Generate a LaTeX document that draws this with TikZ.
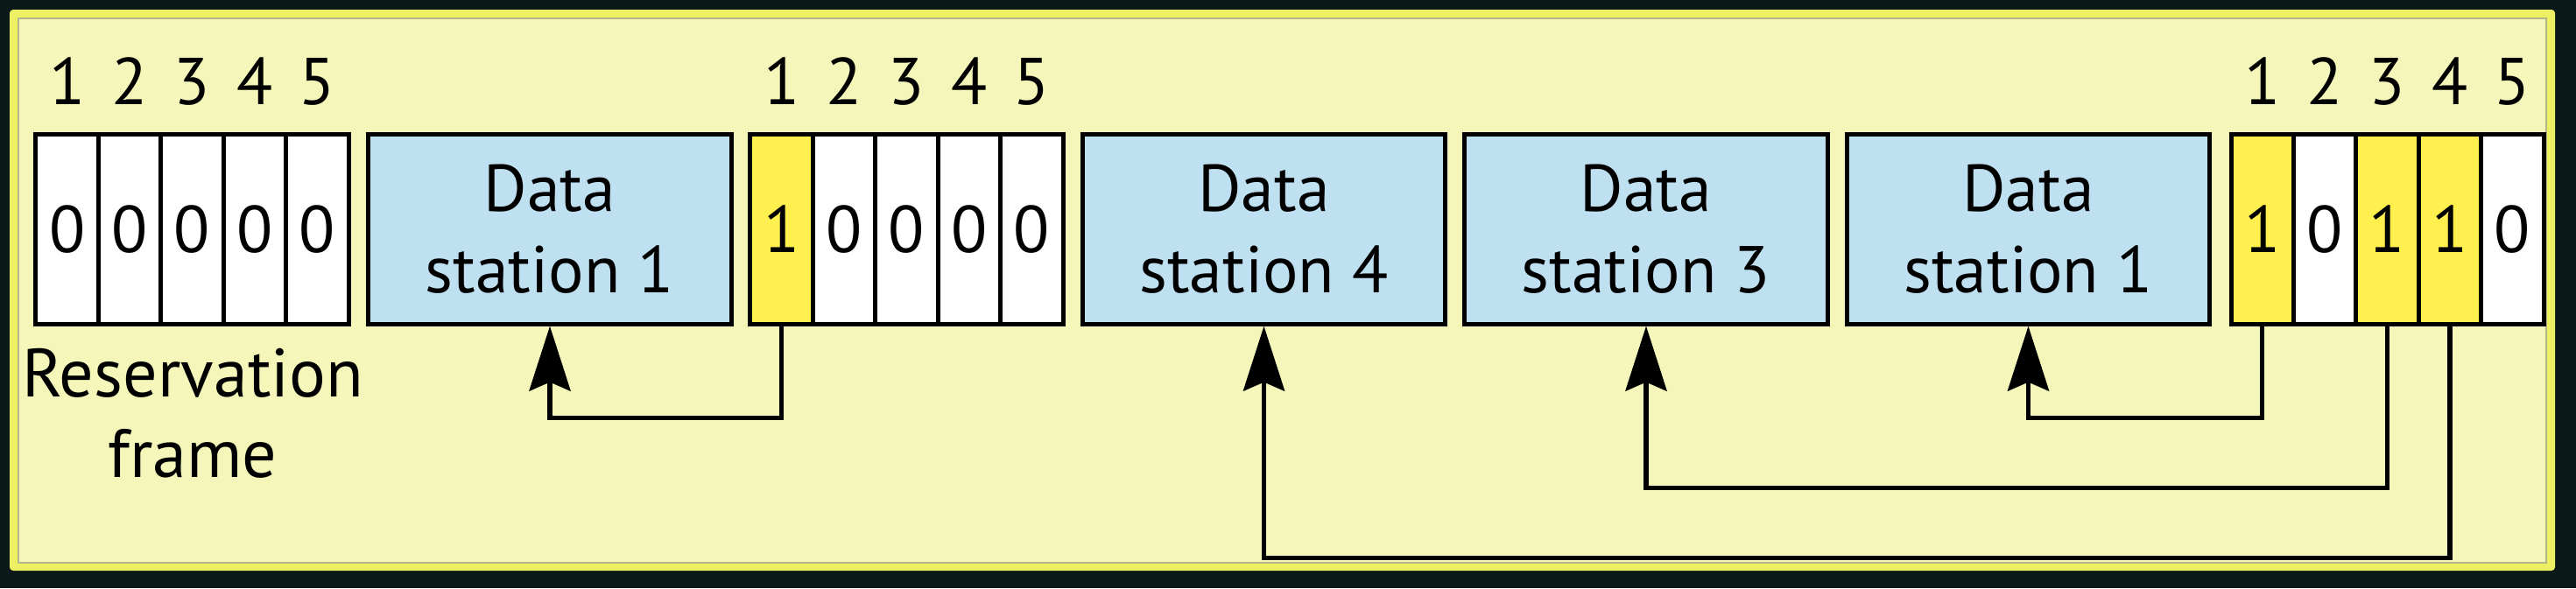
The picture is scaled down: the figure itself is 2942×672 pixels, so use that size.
\documentclass[tikz,border=0pt]{standalone}
\usepackage{fontspec}
\setmainfont{PT Sans}
\usetikzlibrary{arrows.meta}
\definecolor{bgdark}{RGB}{10,24,24}
\definecolor{panelfill}{RGB}{245,247,186}
\definecolor{panelrim}{RGB}{238,240,100}
\definecolor{panelline}{RGB}{180,182,135}
\definecolor{stationblue}{RGB}{190,224,240}
\definecolor{setbit}{RGB}{255,240,80}
\begin{document}
\begin{tikzpicture}[x=0.01cm,y=-0.01cm,
  cellbox/.style={draw=black, line width=0.05cm, minimum width=0.714cm,
    minimum height=2.16cm, inner sep=0pt, fill=white,
    font=\fontsize{21.5}{26}\selectfont},
  bit0/.style={fill=white},
  bit1/.style={fill=setbit},
  stationbox/.style={draw=black, line width=0.05cm, fill=stationblue,
    minimum width=4.14cm, minimum height=2.16cm, align=center, inner sep=0pt,
    font=\fontsize{21.5}{26.5}\selectfont},
  slotnum/.style={inner sep=0pt, font=\fontsize{21.5}{26}\selectfont},
  labeltext/.style={inner sep=0pt, align=center, font=\fontsize{22.2}{26.2}\selectfont},
  link/.style={line width=0.055cm, -{Stealth[length=0.74cm,width=0.47cm,inset=0.1cm]}}
]
\useasboundingbox (0,0) rectangle (2942,672);
\fill[bgdark] (0,0) rectangle (2942,672);
\fill[panelrim, rounded corners=0.04cm] (11,11) rectangle (2918,652);
\filldraw[fill=panelfill, draw=panelline, line width=0.02cm] (21,21) rectangle (2908,643);

% reservation frame 1
\foreach \k/\b in {1/0,2/0,3/0,4/0,5/0} {
  \node[cellbox, bit\b] (f1c\k) at ({41+71.4*(\k-0.5)},262) {\b};
  \node[slotnum] (f1n\k) at ({41+71.4*(\k-0.5)},93) {\k};
}
% reservation frame 2
\foreach \k/\b in {1/1,2/0,3/0,4/0,5/0} {
  \node[cellbox, bit\b] (f2c\k) at ({857+71.4*(\k-0.5)},262) {\b};
  \node[slotnum] (f2n\k) at ({857+71.4*(\k-0.5)},93) {\k};
}
% reservation frame 3
\foreach \k/\b in {1/1,2/0,3/1,4/1,5/0} {
  \node[cellbox, bit\b] (f3c\k) at ({2548+71.4*(\k-0.5)},262) {\b};
  \node[slotnum] (f3n\k) at ({2548+71.4*(\k-0.5)},93) {\k};
}

\node[stationbox] (ds1) at (628,262) {Data\\station 1};
\node[stationbox] (ds4) at (1443.5,262) {Data\\station 4};
\node[stationbox] (ds3) at (1880,262) {Data\\station 3};
\node[stationbox] (ds1b) at (2316.5,262) {Data\\station 1};

\node[labeltext] (reslabel) at (220,472) {Reservation\\frame};

\draw[link] (f2c1.south) -- ++(0,105) -| (ds1.south);
\draw[link] (f3c1.south) -- ++(0,105) -| (ds1b.south);
\draw[link] (f3c3.south) -- ++(0,185) -| (ds3.south);
\draw[link] (f3c4.south) -- ++(0,265) -| (ds4.south);
\end{tikzpicture}
\end{document}
